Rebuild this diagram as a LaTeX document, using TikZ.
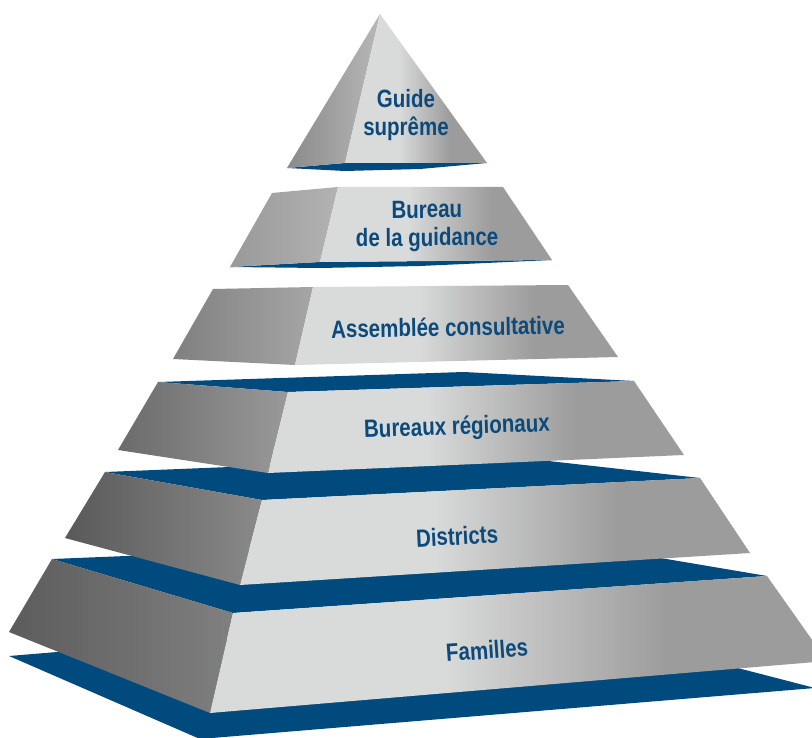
\documentclass[tikz,border=0pt]{standalone}
\usepackage{fontspec}
\newfontfamily\etagefont{Liberation Sans}[FakeStretch=0.82]
\definecolor{bleu}{RGB}{0,74,125}
\definecolor{texte}{RGB}{12,74,124}
\definecolor{clair}{RGB}{217,218,218}
\definecolor{fonce}{RGB}{156,156,156}
\pgfdeclarehorizontalshading{face}{100bp}{color(0bp)=(clair); color(25bp)=(clair); color(44bp)=(clair); color(62bp)=(fonce); color(75bp)=(fonce); color(100bp)=(fonce)}
\begin{document}
\begin{tikzpicture}[x=1pt, y=-1pt,
  dessus/.style={fill=bleu},
  gauche/.style 2 args={left color=black!#1, right color=black!#2},
  devant/.style={shading=face},
  etiquette/.style={text=texte, font=\etagefont\bfseries\fontsize{25}{28}\selectfont, align=center, inner sep=0pt}]
\clip (0, 0) rectangle (812, 738) ;
\fill[white] (0, 0) rectangle (812, 738) ;
% la base
\fill[dessus] (9, 656) -- (525, 613) -- (815, 688) -- (200, 739) -- cycle ;

% Familles
\coordinate (L6) at (52, 559) ; \coordinate (B6) at (548, 539) ;
\coordinate (R6) at (767, 576) ; \coordinate (F6) at (233, 613) ;
\coordinate (L6b) at (9, 632) ; \coordinate (F6b) at (210, 713) ;
\coordinate (R6b) at (827, 661) ;
\fill[dessus] (L6) -- (B6) -- (R6) -- (F6) -- cycle ;
\shade[gauche={64}{50}] (L6) -- (F6) -- (F6b) -- (L6b) -- cycle ;
\shade[devant] (F6) -- (R6) -- (R6b) -- (F6b) -- cycle ;
\node[etiquette, rotate=4] (familles) at (487, 650) {Familles} ;

% Districts
\coordinate (L5) at (105, 472) ; \coordinate (B5) at (504, 456) ;
\coordinate (R5) at (700, 478) ; \coordinate (F5) at (262, 500) ;
\coordinate (L5b) at (65, 538) ; \coordinate (F5b) at (240, 585) ;
\coordinate (R5b) at (750, 553) ;
\fill[dessus] (L5) -- (B5) -- (R5) -- (F5) -- cycle ;
\shade[gauche={65}{46}] (L5) -- (F5) -- (F5b) -- (L5b) -- cycle ;
\shade[devant] (F5) -- (R5) -- (R5b) -- (F5b) -- cycle ;
\node[etiquette, rotate=3] (districts) at (457, 536) {Districts} ;

% Bureaux regionaux
\coordinate (L4) at (158, 382) ; \coordinate (B4) at (464, 372) ;
\coordinate (R4) at (634, 381) ; \coordinate (F4) at (288, 392) ;
\coordinate (L4b) at (118, 450) ; \coordinate (F4b) at (268, 473) ;
\coordinate (R4b) at (684, 455) ;
\fill[dessus] (L4) -- (B4) -- (R4) -- (F4) -- cycle ;
\shade[gauche={58}{40}] (L4) -- (F4) -- (F4b) -- (L4b) -- cycle ;
\shade[devant] (F4) -- (R4) -- (R4b) -- (F4b) -- cycle ;
\node[etiquette, rotate=2] (regionaux) at (457, 428) {Bureaux régionaux} ;

% Assemblee
\coordinate (L3) at (213, 289) ; \coordinate (F3) at (313, 287) ;
\coordinate (R3) at (568, 285) ;
\coordinate (L3b) at (173, 359) ; \coordinate (F3b) at (295, 365) ;
\coordinate (R3b) at (618, 357) ;
\shade[gauche={50}{35}] (L3) -- (F3) -- (F3b) -- (L3b) -- cycle ;
\shade[devant] (F3) -- (R3) -- (R3b) -- (F3b) -- cycle ;
\node[etiquette, rotate=1] (assemblee) at (448, 327) {Assemblée consultative} ;

% Bureau de la guidance
\coordinate (L2) at (272, 193) ; \coordinate (F2) at (338, 187) ;
\coordinate (R2) at (503, 187) ;
\coordinate (L2b) at (230, 267) ; \coordinate (F2b) at (320, 262) ;
\coordinate (R2b) at (552, 260) ;
\fill[dessus] (L2b) -- (F2b) -- (R2b) -- (420, 266) -- (320, 268) -- cycle ;
\shade[gauche={40}{30}] (L2) -- (F2) -- (F2b) -- (L2b) -- cycle ;
\shade[devant] (F2) -- (R2) -- (R2b) -- (F2b) -- cycle ;
\node[etiquette, rotate=0.5] (bureau) at (427, 226) {Bureau\\de la guidance} ;

% Guide supreme
\coordinate (S) at (380, 14) ;
\coordinate (L1) at (287, 168) ; \coordinate (F1) at (345, 163) ;
\coordinate (R1) at (487, 163) ;
\fill[dessus] (L1) -- (F1) -- (R1) -- (420, 169) -- (345, 171) -- cycle ;
\shade[gauche={46}{28}] (S) -- (F1) -- (L1) -- cycle ;
\shade[devant] (S) -- (R1) -- (F1) -- cycle ;
\node[etiquette] (guide) at (406, 115) {Guide\\suprême} ;
\end{tikzpicture}
\end{document}
